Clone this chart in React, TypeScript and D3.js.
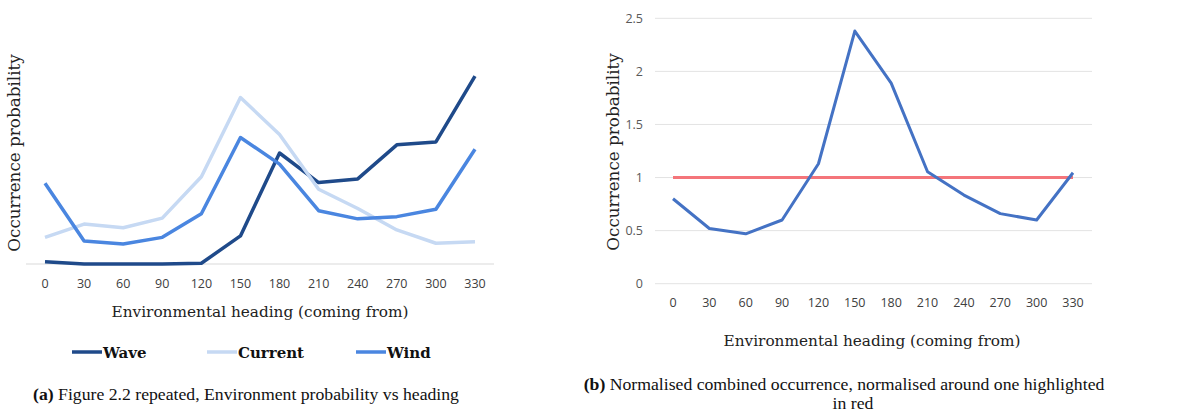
import React from 'react';
import * as d3 from 'd3';

const headings = [0, 30, 60, 90, 120, 150, 180, 210, 240, 270, 300, 330];
const wave = [0.003, 0, 0, 0, 0.001, 0.038, 0.15, 0.11, 0.115, 0.161, 0.165, 0.254];
const current = [0.036, 0.054, 0.049, 0.062, 0.118, 0.225, 0.175, 0.101, 0.075, 0.046, 0.028, 0.03];
const wind = [0.109, 0.031, 0.027, 0.036, 0.068, 0.171, 0.135, 0.072, 0.061, 0.064, 0.074, 0.155];
const combined = [0.8, 0.52, 0.47, 0.6, 1.13, 2.38, 1.89, 1.055, 0.835, 0.66, 0.6, 1.045];
const reference = [1, 1, 1, 1, 1, 1, 1, 1, 1, 1, 1, 1];
const rightTicks = [0, 0.5, 1, 1.5, 2, 2.5];

const seriesA = [
  { name: 'Wave', values: wave, color: '#1f4a8a' },
  { name: 'Current', values: current, color: '#c6d9f3' },
  { name: 'Wind', values: wind, color: '#4a86e0' },
];

const serif = '"DejaVu Serif", serif';
const sans = '"Open Sans", sans-serif';
const captionFont = '"Liberation Serif", serif';

const App = () => {
  // left chart
  const xA = d3.scalePoint<number>().domain(headings).range([45, 475]);
  const yA = d3.scaleLinear().domain([0, 0.33]).range([264, 19.8]);
  const lineA = d3.line<number>()
    .x((d, i) => xA(headings[i]) as number)
    .y((d) => yA(d));

  // right chart
  const xB = d3.scalePoint<number>().domain(headings).range([673, 1073]);
  const yB = d3.scaleLinear().domain([0, 2.5]).range([283.7, 18.3]);
  const lineB = d3.line<number>()
    .x((d, i) => xB(headings[i]) as number)
    .y((d) => yB(d));

  const legendX = [72, 207, 356];

  return (
    <svg width={1189} height={420} style={{ position: 'absolute', left: 0, top: 0, background: '#fff' }}>
      {/* ---- (a) ---- */}
      <line x1={26} x2={494} y1={yA(0)} y2={yA(0)} stroke="#d9d9d9" strokeWidth={1} />
      {seriesA.map((s) => (
        <path key={s.name} d={lineA(s.values) || ''} fill="none" stroke={s.color} strokeWidth={3.5} strokeLinejoin="round" />
      ))}
      {headings.map((h) => (
        <text key={h} x={xA(h)} y={288} textAnchor="middle" fontFamily={sans} fontSize={12.5} fill="#404040">{h}</text>
      ))}
      <text transform={`translate(20,153) rotate(-90)`} textAnchor="middle" fontFamily={serif} fontSize={16.8} fill="#222">Occurrence probability</text>
      <text x={260} y={317} textAnchor="middle" fontFamily={serif} fontSize={15.3} fill="#222">Environmental heading (coming from)</text>
      {seriesA.map((s, i) => (
        <g key={s.name}>
          <line x1={legendX[i]} x2={legendX[i] + 30} y1={352} y2={352} stroke={s.color} strokeWidth={3.5} />
          <text x={legendX[i] + 31} y={357.5} fontFamily={serif} fontWeight="bold" fontSize={15} fill="#111">{s.name}</text>
        </g>
      ))}
      <text x={246} y={400} textAnchor="middle" fontFamily={captionFont} fontSize={17.7} fill="#111">
        <tspan fontWeight="bold">(a)</tspan> Figure 2.2 repeated, Environment probability vs heading
      </text>

      {/* ---- (b) ---- */}
      {rightTicks.map((t) => (
        <g key={t}>
          <line x1={655} x2={1092} y1={yB(t)} y2={yB(t)} stroke="#e3e3e3" strokeWidth={1} />
          <text x={643} y={yB(t) + 4.5} textAnchor="end" fontFamily={sans} fontSize={12.5} fill="#595959">{t}</text>
        </g>
      ))}
      <path d={lineB(reference) || ''} fill="none" stroke="#f4757a" strokeWidth={3} />
      <path d={lineB(combined) || ''} fill="none" stroke="#4472c4" strokeWidth={3} strokeLinejoin="round" />
      {headings.map((h) => (
        <text key={h} x={xB(h)} y={307} textAnchor="middle" fontFamily={sans} fontSize={12.5} fill="#404040">{h}</text>
      ))}
      <text transform={`translate(619,152) rotate(-90)`} textAnchor="middle" fontFamily={serif} fontSize={16.8} fill="#222">Occurrence probability</text>
      <text x={872} y={346} textAnchor="middle" fontFamily={serif} fontSize={15.3} fill="#222">Environmental heading (coming from)</text>
      <text x={844} y={390} textAnchor="middle" fontFamily={captionFont} fontSize={17.7} fill="#111">
        <tspan fontWeight="bold">(b)</tspan> Normalised combined occurrence, normalised around one highlighted
      </text>
      <text x={853} y={409} textAnchor="middle" fontFamily={captionFont} fontSize={17.7} fill="#111">in red</text>
    </svg>
  );
};

export default App;
